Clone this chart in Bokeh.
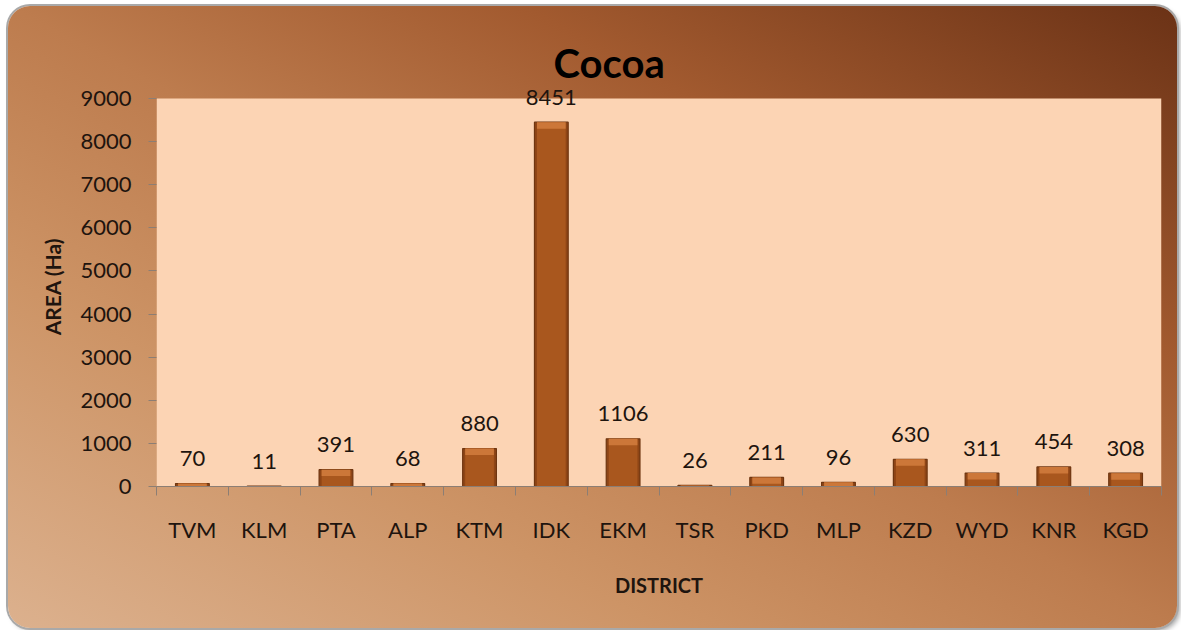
from bokeh.plotting import figure
from bokeh.models import (ColumnDataSource, Range1d, LinearAxis,
                          FixedTicker, LabelSet)
from bokeh.core.properties import value
from bokeh.embed import file_html
from bokeh.resources import INLINE

districts = ["TVM", "KLM", "PTA", "ALP", "KTM", "IDK", "EKM", "TSR",
             "PKD", "MLP", "KZD", "WYD", "KNR", "KGD"]
area = [70, 11, 391, 68, 880, 8451, 1106, 26, 211, 96, 630, 311, 454, 308]
y_ticks_max = 9000
title_text = "Cocoa"
x_label = "DISTRICT"
y_label = "AREA (Ha)"

FONT = "Lato"
TXT = "#1e140e"
TICK = "#8c7e74"
PEACH = "#fcd4b4"

n = len(districts)
centers = [i + 0.5 for i in range(n)]
band = 150  # highlight band depth (data units) used for the bevel look
src = ColumnDataSource(dict(
    x=centers,
    district=districts,
    area=area,
    label=[str(v) for v in area],
    hl_bottom=[max(v - band, 0) for v in area],
))

# layout (pixels): plot area 388px tall; frame extends a little above it so the
# value label of the tallest bar can sit above the plot area without clipping
area_px, headroom_px = 388, 12
y_top = y_ticks_max * (area_px + headroom_px) / area_px

p = figure(x_range=Range1d(0, n), y_range=Range1d(0, y_top),
           width=1169, height=622, output_backend="svg", toolbar_location=None,
           x_axis_location=None, min_border_left=148, min_border_right=16,
           min_border_top=80, min_border_bottom=142)

p.styles = {
    "margin-left": "8px",
    "margin-top": "6px",
    "background": "linear-gradient(to top right, #dcb18e 0%, #cd9466 28%, #bd7c4e 50%, #a25a2f 72%, #6b3216 100%)",
    "border-radius": "22px",
    "box-shadow": "0 0 0 2px #a9a9a9, 3px 3px 5px rgba(0,0,0,0.35)",
}
p.border_fill_alpha = 0
p.background_fill_alpha = 0
p.outline_line_color = None
p.xgrid.grid_line_color = None
p.ygrid.grid_line_color = None

# plot area fill (0 .. y_ticks_max)
p.quad(left=0, right=n, bottom=0, top=y_ticks_max, fill_color=PEACH,
       line_color=None, level="underlay")

# title
p.title.text = title_text
p.title.text_font = FONT
p.title.text_font_style = "bold"
p.title.text_font_size = "40px"
p.title.text_color = "#000000"
p.title.align = "left"
p.title.offset = 397
p.title.standoff = 0

# y axis
ya = p.yaxis[0]
ya.ticker = FixedTicker(ticks=list(range(0, y_ticks_max + 1, 1000)))
ya.axis_line_color = None
ya.major_tick_line_color = TICK
ya.major_tick_out = 8
ya.major_tick_in = 0
ya.minor_tick_line_color = None
ya.major_label_standoff = 17
ya.major_label_text_font = FONT
ya.major_label_text_font_size = "22px"
ya.major_label_text_color = TXT
ya.axis_label = y_label
ya.axis_label_text_font = FONT
ya.axis_label_text_font_style = "bold"
ya.axis_label_text_font_size = "21px"
ya.axis_label_text_color = TXT
ya.axis_label_standoff = 12

# separator axis (ticks between categories)
sep = LinearAxis(ticker=FixedTicker(ticks=list(range(n + 1))),
                 axis_line_color=TICK, major_tick_line_color=TICK,
                 major_tick_out=9, major_tick_in=0, minor_tick_line_color=None,
                 major_label_text_font_size="0px", major_label_standoff=0)
p.add_layout(sep, "below")

cat = LinearAxis(ticker=FixedTicker(ticks=centers),
                 major_label_overrides={c: d for c, d in zip(centers, districts)},
                 axis_line_color=None, major_tick_line_color=None,
                 minor_tick_line_color=None,
                 major_tick_out=0, major_tick_in=0,
                 major_label_standoff=20,
                 major_label_text_font=FONT, major_label_text_font_size="22px",
                 major_label_text_color=TXT,
                 axis_label=x_label, axis_label_text_font=FONT,
                 axis_label_text_font_style="bold",
                 axis_label_text_font_size="20px",
                 axis_label_text_color=TXT, axis_label_standoff=27)
p.add_layout(cat, "below")

# bars (bevelled look: dark rim, body, light top band)
p.vbar(x="x", top="area", bottom=0, width=0.47, source=src,
       fill_color="#8e4516", line_color="#6e3510", line_width=1.2)
p.vbar(x="x", top="area", bottom=0, width=0.40, source=src,
       fill_color="#a9571e", line_color=None)
p.vbar(x="x", top="area", bottom="hl_bottom", width=0.40, source=src,
       fill_color="#cf7b3c", line_color=None, fill_alpha=0.9)

labels = LabelSet(x="x", y="area", text="label", source=src,
                  text_align="center", text_baseline="middle", y_offset=25,
                  text_font=value(FONT), text_font_size=value("22px"),
                  text_color=TXT)
p.add_layout(labels)

open("out.html", "w").write(file_html(p, INLINE))
